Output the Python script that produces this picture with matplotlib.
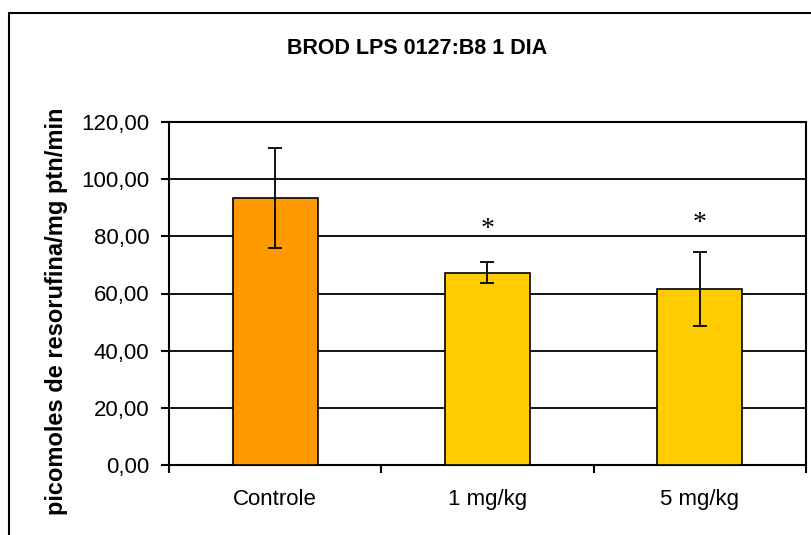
import numpy as np
import matplotlib
matplotlib.use("Agg")
import matplotlib.pyplot as plt
from matplotlib.patches import Rectangle

# values
groups = ["Controle", "1 mg/kg", "5 mg/kg"]
means = [93.3, 67.3, 61.5]
errors = [17.5, 3.6, 13.0]
bar_colors = ["#FF9900", "#FFCC00", "#FFCC00"]
star_groups = [1, 2]
star_heights = [84.6, 86.7]
yticks = [0, 20, 40, 60, 80, 100, 120]

plt.rcParams["font.family"] = ["Liberation Sans", "DejaVu Sans"]

W, H = 812, 535
fig = plt.figure(figsize=(W / 100, H / 100), dpi=100)
ax = fig.add_axes([169 / W, (H - 465) / H, 637 / W, 343 / H])

x = np.arange(len(groups))
ax.bar(x, means, width=0.4, color=bar_colors, edgecolor="black", linewidth=1.2, zorder=3)
ax.errorbar(x, means, yerr=errors, fmt="none", ecolor="black", elinewidth=1.3,
            capsize=5.2, capthick=1.3, zorder=4)

# significance marks, glyph centred on the given height
for g, h in zip(star_groups, star_heights):
    ax.annotate("*", xy=(g, h), xytext=(0, -9.3), textcoords="offset points",
                ha="center", va="baseline", fontsize=20,
                family=["Liberation Serif", "DejaVu Serif"], zorder=5)

ax.set_xlim(-0.5, len(groups) - 0.5)
ax.set_ylim(0, 120)
ax.set_yticks(yticks)
ax.set_yticklabels(["{:.2f}".format(v).replace(".", ",") for v in yticks], fontsize=16)
ax.yaxis.grid(True, color="black", linewidth=1.3, zorder=0)

# categories labelled in the middle, ticks at the boundaries
ax.set_xticks(x)
ax.set_xticklabels(groups, fontsize=16)
ax.tick_params(axis="x", length=0, pad=17)
ax.set_xticks(np.arange(-0.5, len(groups)), minor=True)
ax.tick_params(axis="x", which="minor", length=6, width=1.5, direction="out")
ax.tick_params(axis="y", length=6, width=1.5, direction="out", pad=8)

for side in ["left", "bottom", "top", "right"]:
    ax.spines[side].set_linewidth(1.5)
    ax.spines[side].set_color("black")

fig.text(417 / W, (H - 54) / H, "BROD LPS 0127:B8 1 DIA", ha="center", va="baseline",
         fontsize=15.5, fontweight="bold")
fig.text(57 / W, (H - 311) / H, "picomoles de resorufina/mg ptn/min", rotation=90,
         ha="center", va="center", fontsize=17, fontweight="bold")

# chart area frame (right and bottom edges fall outside the picture)
fig.patches.append(Rectangle((9 / W, -0.1), 1.2, (H - 13) / H + 0.1, transform=fig.transFigure,
                             fill=False, edgecolor="black", linewidth=1.5))

fig.savefig("out.png", dpi=100)
